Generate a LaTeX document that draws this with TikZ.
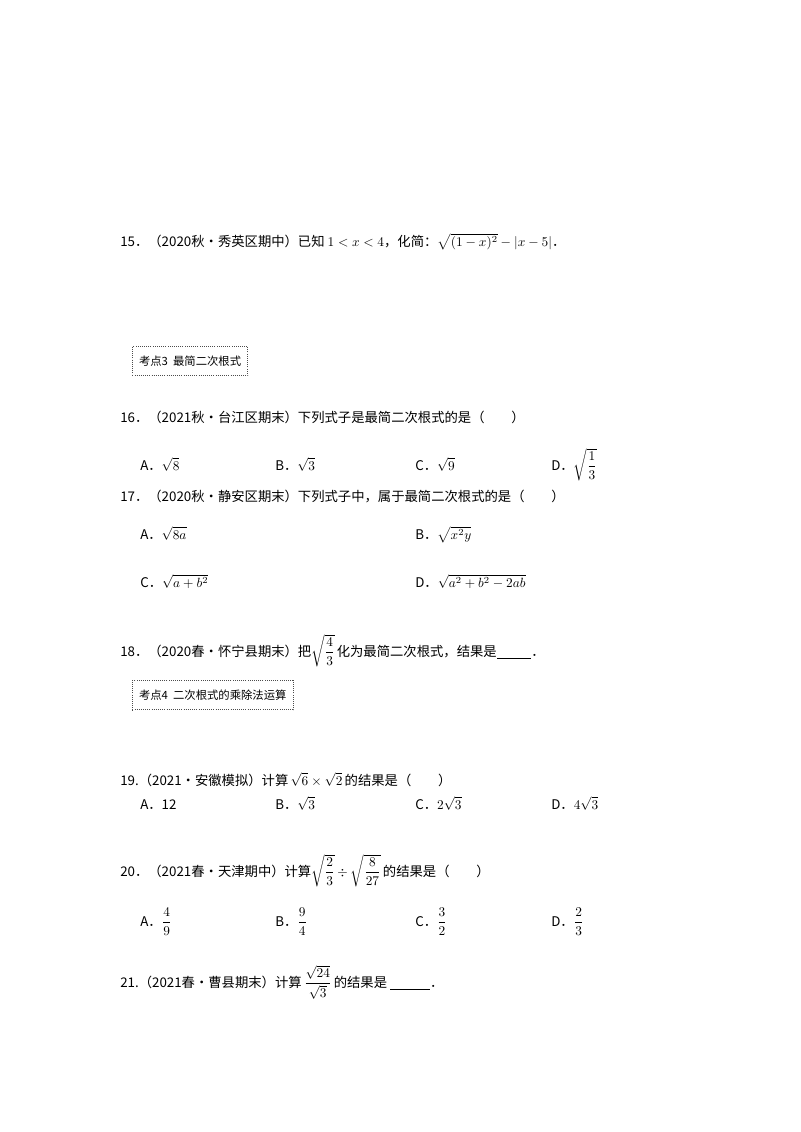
\documentclass[tikz,border=0pt]{standalone}
\usepackage{fontspec}
\usepackage{amsmath}
\newfontfamily\cjk{Noto Sans CJK SC}
\begin{document}
\begin{tikzpicture}[x=0.75pt,y=-0.75pt,
  t/.style={anchor=base west,inner sep=0pt,font=\fontsize{10}{12}\selectfont\cjk},
  kbox/.style={draw=black!70,densely dotted,line width=0.6pt,inner xsep=5pt,inner ysep=7pt,anchor=west,font=\fontsize{8.5}{10}\selectfont\cjk}]
\useasboundingbox (0,0) rectangle (800,1132);
\node[t] (q15) at (120,246) {15．（2020秋•秀英区期中）已知 $1<x<4$，化简：$\sqrt{(1-x)^2}-|x-5|$．};
\node[kbox] (k3) at (132,361) {考点3\ \ 最简二次根式};
\node[t] (q16) at (120,422) {16．（2021秋•台江区期末）下列式子是最简二次根式的是（\qquad）};
\node[t] (a16) at (140,470) {A．$\sqrt{8}$};
\node[t] (b16) at (275,470) {B．$\sqrt{3}$};
\node[t] (c16) at (415,470) {C．$\sqrt{9}$};
\node[t] (d16) at (551,470) {D．$\sqrt{\dfrac13}$};
\node[t] (q17) at (120,501) {17．（2020秋•静安区期末）下列式子中，属于最简二次根式的是（\qquad）};
\node[t] (a17) at (140,539) {A．$\sqrt{8a}$};
\node[t] (b17) at (415,539) {B．$\sqrt{x^2y}$};
\node[t] (c17) at (140,587) {C．$\sqrt{a+b^2}$};
\node[t] (d17) at (415,587) {D．$\sqrt{a^2+b^2-2ab}$};
\node[t] (q18) at (120,656) {18．（2020春•怀宁县期末）把$\sqrt{\dfrac43}$\,化为最简二次根式，结果是\underline{\hspace{2.6em}}．};
\node[kbox] (k4) at (132,695) {考点4\ \ 二次根式的乘除法运算};
\node[t] (q19) at (120,785) {19.（2021•安徽模拟）计算\,$\sqrt6\times\sqrt2$\,的结果是（\qquad）};
\node[t] (a19) at (140,809) {A．12};
\node[t] (b19) at (275,809) {B．$\sqrt{3}$};
\node[t] (c19) at (415,809) {C．$2\sqrt{3}$};
\node[t] (d19) at (551,809) {D．$4\sqrt{3}$};
\node[t] (q20) at (120,876) {20．（2021春•天津期中）计算$\sqrt{\dfrac23}\div\sqrt{\dfrac{8}{27}}$\,的结果是（\qquad）};
\node[t] (a20) at (140,926) {A．$\dfrac49$};
\node[t] (b20) at (275,926) {B．$\dfrac94$};
\node[t] (c20) at (415,926) {C．$\dfrac32$};
\node[t] (d20) at (551,926) {D．$\dfrac23$};
\node[t] (q21) at (120,987) {21.（2021春•曹县期末）计算\,$\dfrac{\sqrt{24}}{\sqrt3}$\,的结果是 \underline{\hspace{3em}}．};
\end{tikzpicture}
\end{document}
